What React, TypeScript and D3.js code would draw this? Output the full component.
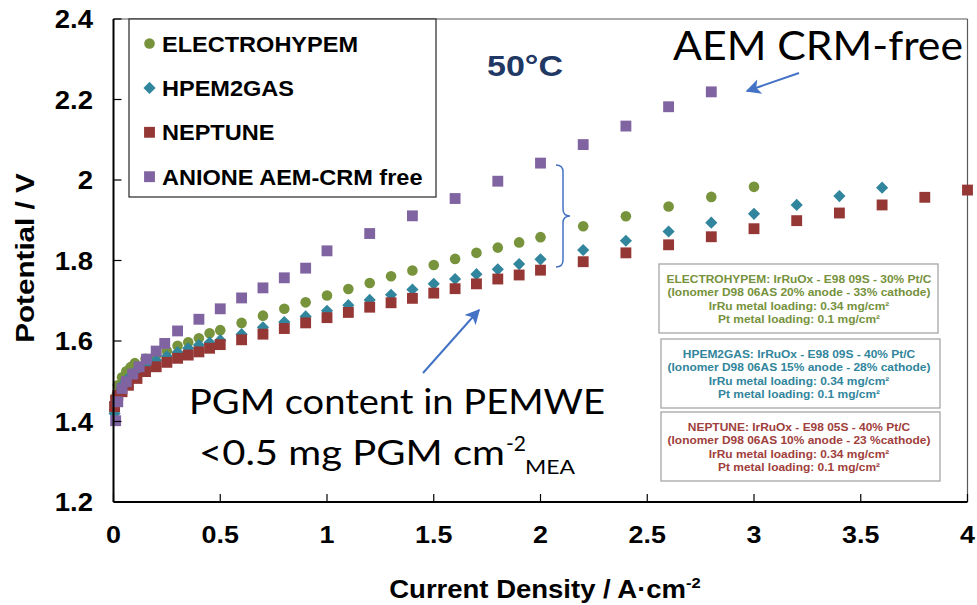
import React from 'react'
import * as d3 from 'd3'

// ELECTROHYPEM (green circles)
const electroX = [0.005, 0.01, 0.02, 0.04, 0.06, 0.08, 0.1, 0.15, 0.2, 0.25, 0.3, 0.35, 0.4, 0.45, 0.5, 0.6, 0.7, 0.8, 0.9, 1.0, 1.1, 1.2, 1.3, 1.4, 1.5, 1.6, 1.7, 1.8, 1.9, 2.0, 2.2, 2.4, 2.6, 2.8, 3.0]
const electroV = [1.43, 1.46, 1.49, 1.51, 1.525, 1.535, 1.545, 1.556, 1.565, 1.575, 1.588, 1.597, 1.607, 1.619, 1.627, 1.645, 1.663, 1.68, 1.696, 1.713, 1.729, 1.744, 1.761, 1.775, 1.789, 1.804, 1.819, 1.832, 1.845, 1.858, 1.885, 1.91, 1.934, 1.958, 1.983]

// HPEM2GAS (teal diamonds)
const hpemX = [0.005, 0.01, 0.02, 0.04, 0.06, 0.08, 0.1, 0.15, 0.2, 0.25, 0.3, 0.35, 0.4, 0.45, 0.5, 0.6, 0.7, 0.8, 0.9, 1.0, 1.1, 1.2, 1.3, 1.4, 1.5, 1.6, 1.7, 1.8, 1.9, 2.0, 2.2, 2.4, 2.6, 2.8, 3.0, 3.2, 3.4, 3.6]
const hpemV = [1.42, 1.45, 1.47, 1.49, 1.503, 1.513, 1.523, 1.54, 1.552, 1.562, 1.572, 1.582, 1.59, 1.596, 1.602, 1.617, 1.634, 1.647, 1.661, 1.675, 1.689, 1.702, 1.715, 1.728, 1.742, 1.754, 1.766, 1.778, 1.791, 1.803, 1.826, 1.849, 1.872, 1.894, 1.916, 1.938, 1.96, 1.981]

// NEPTUNE (red squares)
const neptuneX = [0.005, 0.01, 0.02, 0.04, 0.07, 0.11, 0.15, 0.2, 0.25, 0.3, 0.35, 0.4, 0.45, 0.5, 0.6, 0.7, 0.8, 0.9, 1.0, 1.1, 1.2, 1.3, 1.4, 1.5, 1.6, 1.7, 1.8, 1.9, 2.0, 2.2, 2.4, 2.6, 2.8, 3.0, 3.2, 3.4, 3.6, 3.8, 4.0]
const neptuneV = [1.437, 1.453, 1.465, 1.474, 1.49, 1.507, 1.524, 1.536, 1.547, 1.557, 1.565, 1.573, 1.582, 1.591, 1.603, 1.617, 1.631, 1.645, 1.658, 1.671, 1.684, 1.695, 1.706, 1.719, 1.73, 1.742, 1.754, 1.764, 1.776, 1.797, 1.819, 1.839, 1.859, 1.879, 1.899, 1.918, 1.938, 1.957, 1.975]

// ANIONE AEM-CRM free (purple squares)
const anioneX = [0.01, 0.02, 0.04, 0.06, 0.09, 0.12, 0.155, 0.2, 0.24, 0.3, 0.4, 0.5, 0.6, 0.7, 0.8, 0.9, 1.0, 1.2, 1.4, 1.6, 1.8, 2.0, 2.2, 2.4, 2.6, 2.8]
const anioneV = [1.402, 1.449, 1.482, 1.499, 1.518, 1.536, 1.555, 1.575, 1.594, 1.625, 1.654, 1.68, 1.707, 1.732, 1.757, 1.781, 1.824, 1.867, 1.911, 1.954, 1.997, 2.042, 2.088, 2.134, 2.182, 2.219]

const xTicks = [0, 0.5, 1, 1.5, 2, 2.5, 3, 3.5, 4]
const yTicks = [1.2, 1.4, 1.6, 1.8, 2.0, 2.2, 2.4]

const seriesNames = ['ELECTROHYPEM', 'HPEM2GAS', 'NEPTUNE', 'ANIONE AEM-CRM free']
const seriesColors = ['#77933C', '#31859C', '#953735', '#8064A2']

const box1Lines = ['ELECTROHYPEM: IrRuOx - E98 09S - 30% Pt/C', '(Ionomer D98 06AS 20% anode - 33% cathode)', 'IrRu metal loading: 0.34 mg/cm²', 'Pt metal loading: 0.1 mg/cm²']
const box2Lines = ['HPEM2GAS: IrRuOx - E98 09S - 40% Pt/C', '(Ionomer D98 06AS 15% anode - 28% cathode)', 'IrRu metal loading: 0.34 mg/cm²', 'Pt metal loading: 0.1 mg/cm²']
const box3Lines = ['NEPTUNE: IrRuOx - E98 05S - 40% Pt/C', '(Ionomer D98 06AS 10% anode - 23 %cathode)', 'IrRu metal loading: 0.34 mg/cm²', 'Pt metal loading: 0.1 mg/cm²']

const ARIAL = '"Liberation Sans", Arial, sans-serif'
const CALIBRI = 'Lato, "Open Sans", sans-serif'

const App = () => {
    const width = 977
    const height = 605
    const left = 113.5
    const right = 967.5
    const top = 19
    const bottom = 502

    const x = d3.scaleLinear().domain([0, 4]).range([left, right])
    const y = d3.scaleLinear().domain([1.2, 2.4]).range([bottom, top])

    const circle = d3.symbol().type(d3.symbolCircle).size(88)()
    const square = d3.symbol().type(d3.symbolSquare).size(118)()
    const diamond = d3.symbol().type(d3.symbolSquare).size(74)()
    const shapes = [circle, diamond, square, square]

    const series = [
        { xs: electroX, vs: electroV },
        { xs: hpemX, vs: hpemV },
        { xs: neptuneX, vs: neptuneV },
        { xs: anioneX, vs: anioneV },
    ]

    const markerTransform = (i, px, py) =>
        i === 1 ? `translate(${px},${py}) rotate(45)` : `translate(${px},${py})`

    const boxes = [
        { lines: box1Lines, color: '#76923C', y0: 264, x0: 659 },
        { lines: box2Lines, color: '#31859C', y0: 339, x0: 661 },
        { lines: box3Lines, color: '#A0403C', y0: 412, x0: 661 },
    ]

    return (
        <svg width={width} height={height} style={{ position: 'absolute', left: 0, top: 0, background: '#fff' }}>
            <defs>
                <marker id="arrowBig" viewBox="0 0 10 10" refX="9" refY="5" markerWidth="17" markerHeight="15" orient="auto" markerUnits="userSpaceOnUse">
                    <path d="M0,0 L10,5 L0,10 L2.5,5 z" fill="#4472C4" />
                </marker>
            </defs>
            <rect width={width} height={height} fill="#fff" />

            {/* plot frame */}
            <line x1={left} x2={right} y1={top} y2={top} stroke="#595959" strokeWidth={1.2} />
            <line x1={right} x2={right} y1={top} y2={bottom} stroke="#595959" strokeWidth={1.2} />

            {/* series, first drawn at the bottom */}
            {series.map((s, i) => (
                <g key={seriesNames[i]} fill={seriesColors[i]}>
                    {s.xs.map((xv, j) => (
                        <path key={j} d={shapes[i]} transform={markerTransform(i, x(xv), y(s.vs[j]))} />
                    ))}
                </g>
            ))}

            {/* axes */}
            <line x1={left} x2={left} y1={top} y2={bottom} stroke="#000" strokeWidth={2} />
            <line x1={left} x2={right} y1={bottom} y2={bottom} stroke="#000" strokeWidth={2} />
            {yTicks.map((t) => (
                <g key={`y${t}`}>
                    <line x1={left} x2={left + 8} y1={y(t)} y2={y(t)} stroke="#000" strokeWidth={1.2} />
                    <text
                        transform={`translate(93,${y(t) + 9}) scale(1.1,1)`}
                        textAnchor="end"
                        fontFamily={ARIAL}
                        fontWeight="bold"
                        fontSize={25}
                    >{String(t)}</text>
                </g>
            ))}
            {xTicks.map((t) => (
                <g key={`x${t}`}>
                    <line x1={x(t)} x2={x(t)} y1={bottom} y2={bottom - 8} stroke="#000" strokeWidth={1.2} />
                    <text
                        transform={`translate(${x(t)},543) scale(1.12,1)`}
                        textAnchor="middle"
                        fontFamily={ARIAL}
                        fontWeight="bold"
                        fontSize={24}
                    >{String(t)}</text>
                </g>
            ))}

            {/* axis titles */}
            <text transform="translate(545,598) scale(1.1,1)" textAnchor="middle" fontFamily={ARIAL} fontWeight="bold" fontSize={25}>
                Current Density / A·cm<tspan fontSize={15} dy={-10}>-2</tspan>
            </text>
            <text transform="translate(34,258) rotate(-90) scale(1.14,1)" textAnchor="middle" fontFamily={ARIAL} fontWeight="bold" fontSize={26}>
                Potential / V
            </text>

            {/* legend */}
            <rect x={129} y={19} width={307} height={178} fill="#fff" stroke="#262626" strokeWidth={1.2} />
            {seriesNames.map((name, i) => {
                const ly = 43.5 + i * 44.4
                return (
                    <g key={`leg${name}`}>
                        <path d={shapes[i]} fill={seriesColors[i]} transform={markerTransform(i, 149.5, ly)} />
                        <text transform={`translate(162,${ly + 8}) scale(1.07,1)`} fontFamily={ARIAL} fontWeight="bold" fontSize={22}>{name}</text>
                    </g>
                )
            })}

            {/* 50°C */}
            <text x={487} y={76} textLength={76} lengthAdjust="spacingAndGlyphs" fontFamily={ARIAL} fontWeight="bold" fontSize={30} fill="#1F3864">50°C</text>

            {/* AEM CRM-free annotation */}
            <text x={673} y={60} textLength={290} lengthAdjust="spacingAndGlyphs" fontFamily={CALIBRI} fontSize={41} fill="#000">AEM CRM-free</text>
            <line x1={799} y1={73} x2={747} y2={91} stroke="#4472C4" strokeWidth={2} markerEnd="url(#arrowBig)" />

            {/* brace */}
            <path
                d="M556,165 Q563,165 563,172 L563,209 Q563,216 570,216 Q563,216 563,223 L563,260 Q563,267 556,267"
                fill="none"
                stroke="#4472C4"
                strokeWidth={1.5}
            />

            {/* PGM annotation */}
            <line x1={423} y1={373} x2={479} y2={310} stroke="#4472C4" strokeWidth={2} markerEnd="url(#arrowBig)" />
            <text x={189} y={414} textLength={416} lengthAdjust="spacingAndGlyphs" fontFamily={CALIBRI} fontSize={34} fill="#000">PGM content in PEMWE</text>
            <text x={199} y={465} textLength={306} lengthAdjust="spacingAndGlyphs" fontFamily={CALIBRI} fontSize={34} fill="#000">&lt;0.5 mg PGM cm</text>
            <text x={506} y={451} fontFamily={CALIBRI} fontSize={21} fill="#000">-2</text>
            <text x={525} y={474} textLength={50} lengthAdjust="spacingAndGlyphs" fontFamily={CALIBRI} fontSize={20} fill="#000">MEA</text>

            {/* description boxes */}
            {boxes.map((b) => (
                <g key={b.lines[0]}>
                    <rect x={b.x0} y={b.y0} width={279} height={69} fill="#fff" stroke="#A6A6A6" strokeWidth={1.3} />
                    {b.lines.map((ln, k) => (
                        <text
                            key={k}
                            transform={`translate(799,${b.y0 + 18.5 + k * 13.6}) scale(1.04,1)`}
                            textAnchor="middle"
                            fontFamily={ARIAL}
                            fontWeight="bold"
                            fontSize={11.5}
                            fill={b.color}
                        >{ln}</text>
                    ))}
                </g>
            ))}
        </svg>
    )
}

export default App
